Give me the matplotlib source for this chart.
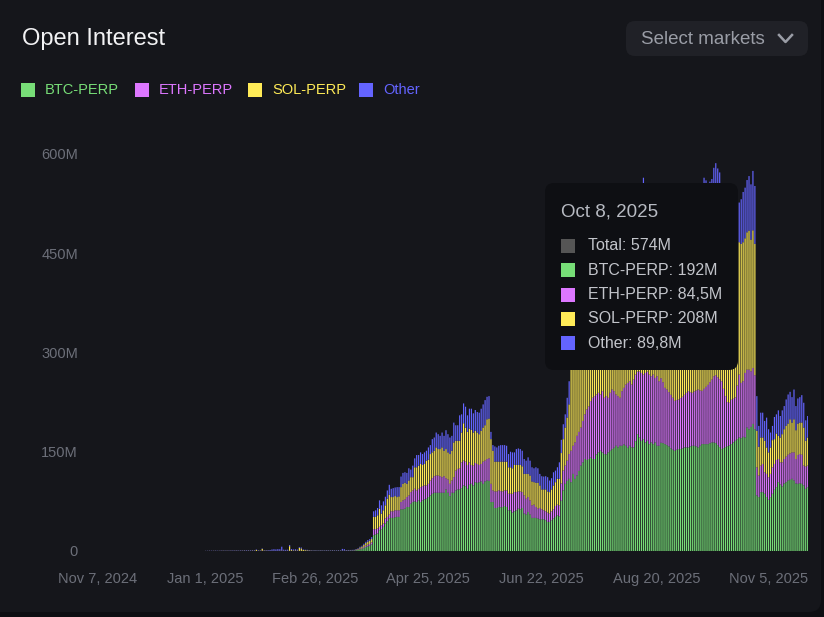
import numpy as np
import matplotlib
matplotlib.use("Agg")
import matplotlib.pyplot as plt
import matplotlib.dates as mdates
from matplotlib.patches import FancyBboxPatch, Rectangle
from matplotlib.lines import Line2D

plt.rcParams['font.family'] = ['Liberation Sans', 'DejaVu Sans']

# daily open interest in $M, Jan 1 2025 .. Nov 5 2025
days = np.arange(np.datetime64('2025-01-01'), np.datetime64('2025-11-06'))

btc_perp = [
    # Jan 1 - Mar 18
    0, 0, 0, 0, 0, 0, 0, 0, 0, 0, 0, 0, 0, 0, 0, 0, 0, 0, 0, 0, 0, 0, 0, 0, 0, 0,
    0, 0, 0, 0, 0, 0, 0, 0, 0, 0, 0, 0, 0, 0, 0, 0, 0, 0, 0, 0, 0, 0, 0, 0, 0, 0, 0, 0, 0,
    0.2, 0.2, 0.2, 0.2, 0.2, 0.2, 0.2, 0.2, 0.2, 0.2, 0.2, 0.2, 0.2, 0.2, 0.2,
    0.2, 0.2, 0.3, 0.3, 0.3, 0.4, 0.4,
    # Mar 19 - May 10
    1.2, 1.5, 2.5, 3, 4.5, 6, 7, 8, 10, 24, 25, 26.5, 31.5, 33, 36.5, 41.5, 45, 49, 50,
    50, 51, 51.5, 51.5, 63, 63, 64, 66.5, 66.5, 71.5, 74, 75, 74, 76.5, 74, 76.5, 78, 79,
    81.5, 84, 86.5, 88, 88, 88, 88, 88, 88, 93, 88, 83, 88, 88, 91.5, 93,
    # May 11 - Jun 30
    93, 95, 99, 98, 94, 100, 101.5, 99, 104, 103, 104, 105, 101.5, 105, 106.5, 106,
    74, 74, 65, 65, 66.5, 66, 66.5, 68, 66.5, 61.5, 61.5, 58, 60, 61.5, 64, 63,
    65, 56.5, 55, 59, 55, 50, 50, 50, 49, 48, 48, 48, 46.5, 44, 44, 46.5, 49, 51.5, 54,
    # Jul 1 - Aug 21
    52.5, 76, 91.5, 101.5, 106, 109, 104, 116.5, 109, 114, 121, 129, 134, 139, 137.5,
    139, 141, 139, 139, 146, 149, 151.5, 149, 146.5, 146, 149, 151.5, 154, 156, 159,
    156.5, 159, 159, 161, 159, 156, 159, 156.5, 156.5, 166, 176.5, 171.5, 166.5, 169,
    164, 166.5, 161.5, 164, 161.5, 164, 159, 159,
    # Aug 22 - Oct 1
    163.5, 163, 161.5, 160, 158, 155, 153, 151.5, 153, 154, 154, 155, 156.5, 156.5,
    156.5, 158, 159, 159, 158, 156.5, 159, 161.5, 161.5, 161.5, 161.5, 163, 164, 164,
    163, 160, 157, 154, 155.5, 157, 158.5, 159.5, 161.5, 164, 166.5, 169, 171.5,
    # Oct 2 - Nov 5
    170.5, 172.5, 171.5, 186.5, 184, 187.5, 192, 184, 84, 81.5, 89, 89, 86.5, 81.5,
    77.5, 81.5, 86.5, 92.5, 96.5, 104, 100.5, 97.5, 102, 104, 106.5, 107.5, 109, 106.5,
    102, 101.5, 102.5, 101.5, 99, 94, 96.5,
]

eth_perp = [
    0, 0, 0, 0, 0, 0, 0, 0, 0, 0, 0, 0, 0, 0, 0, 0, 0, 0, 0, 0, 0, 0, 0, 0, 0, 0,
    0.1, 0, 0, 0.4, 0.1, 0, 0, 0, 0, 0, 0, 0, 0, 0.2, 0, 0, 0, 0.3, 0.1, 0, 0, 0,
    0.2, 0.1, 0, 0, 0, 0, 0,
    0.1, 0.1, 0.1, 0.1, 0.1, 0.1, 0.1, 0.1, 0.1, 0.1, 0.1, 0.1, 0.1, 0.1, 0.1,
    0.1, 0.1, 0.2, 0.2, 0.2, 0.2, 0.2,
    0.5, 0.7, 1.0, 1.3, 1.6, 2, 2.5, 2.6, 3, 9, 8, 7.5, 5, 6, 5, 7.5, 6.5, 6, 10,
    10, 10.5, 10, 10, 11, 13.5, 14, 15, 17.5, 17.5, 17.5, 19, 17.5, 17.5, 22.5, 21.5, 21,
    20, 20, 22.5, 23.5, 25, 26, 26, 25, 23.5, 25, 17, 20, 18.5, 18.5, 23.5, 30, 31,
    32, 39, 37.5, 37, 36, 34, 28.5, 30, 29, 28.5, 26, 26.5, 33.5, 31.5, 32.5, 34,
    27.5, 17.5, 25, 25, 25, 24.5, 23.5, 23.5, 25, 25, 25, 28.5, 29, 27.5, 26, 27,
    24, 27.5, 24, 22.5, 21.5, 19, 20, 16.5, 15, 17, 15, 13.5, 13.5, 14, 12.5, 13.5, 14, 16.5, 16,
    16.5, 26, 30, 27.5, 30.5, 37.5, 47.5, 42.5, 55, 60, 59, 57.5, 62.5, 67.5, 76.5,
    79.5, 85.5, 92.5, 95, 90.5, 90, 85, 92.5, 85, 88, 82.5, 87.5, 90, 85.5, 77.5,
    77.5, 72.5, 82.5, 85.5, 92.5, 98, 97.5, 95, 102.5, 100.5, 94.5, 100, 102.5, 97.5,
    105, 104.5, 105, 100, 105, 97.5, 105, 97.5,
    97.5, 92, 85, 84, 82, 81, 78.5, 75.5, 75, 75, 77, 78, 79.5, 82.5, 85, 82, 80, 82,
    84.5, 87.5, 83.5, 80.5, 83.5, 86.5, 89.5, 92, 95, 100, 102.5, 102.5, 102.5, 102.5,
    89.5, 77, 66.5, 64.5, 67, 66, 65.5, 81, 95,
    83.5, 84, 97.5, 87.5, 90, 84, 84.5, 81.5, 42.5, 32.5, 40, 42.5, 32.5, 35, 34, 35,
    40, 39, 41, 35, 33.5, 36.5, 37, 38.5, 39, 40, 40, 42.5, 37, 43.5, 44, 44, 30, 33.5, 32.5,
]

sol_perp = [
    0.1, 0.1, 0.2, 0.1, 0.2, 0.2, 0.1, 0.2, 0.2, 0.3, 0.2, 0.3, 0.2, 0.3, 0.2, 0.3,
    0.3, 0.2, 0.3, 0.3, 0.4, 0.3, 0.4, 0.3, 0.5, 0.4,
    1.6, 0.4, 0.5, 2.8, 0.6, 0.5, 0.4, 0.3, 0.3, 0.3, 0.2, 0.3, 0.4, 0.5, 0.4, 0.4, 0.5,
    7.0, 1.2, 0.8, 0.9, 0.7, 4.5, 3.8, 1.5, 1.2, 1.0, 0.8, 0.5,
    0.2, 0.3, 0.2, 0.2, 0.3, 0.2, 0.2, 0.3, 0.2, 0.2, 0.3, 0.2, 0.2, 0.3, 0.2,
    0.3, 0.3, 0.3, 0.3, 0.4, 0.3, 0.4,
    0.6, 0.9, 1.7, 2.2, 3, 4, 4.5, 4.8, 5, 18.5, 18.5, 20, 27.5, 17.5, 20, 20, 27.5, 30,
    21.5, 21.5, 21.5, 20, 21, 22.5, 25, 25, 20, 22.5, 22.5, 20, 32.5, 35, 35, 35, 32,
    32.5, 37.5, 36.5, 40, 39, 38.5, 42.5, 40, 41, 45, 38.5, 44, 41, 45, 45, 52.5, 45, 42.5,
    41.5, 45, 56.5, 51.5, 50, 51, 53, 50, 48.5, 47.5, 46.5, 50, 51.5, 53.5, 60, 60,
    67.5, 60, 45, 45, 43.5, 44.5, 45, 43.5, 43.5, 40, 40, 38.5, 41, 41, 40, 40,
    39, 32.5, 37.5, 35, 37.5, 36, 34, 36.5, 39, 34, 30, 31.5, 33, 32, 32.5, 33, 36, 36, 39,
    40, 46, 47.5, 57.5, 65, 75, 123.5, 141, 156, 161, 165, 163.5, 163.5, 158.5, 156,
    156.5, 150, 148, 146, 150, 152, 155, 150, 158, 155, 160, 156, 150, 158, 160,
    162, 165, 162, 160, 158, 155, 160, 162, 158, 160, 165, 168, 170, 210,
    165, 168, 170, 172, 170, 175, 172, 175,
    172, 175, 178, 180, 182, 185, 188, 190, 192, 190, 192, 190, 192, 195, 192, 195,
    198, 196, 198, 200, 202, 205, 225, 220, 205, 215, 215, 222, 225, 222,
    220, 210, 195, 200, 205, 210, 212, 215, 218, 200, 200,
    210, 210, 203.5, 207.5, 210, 199, 208, 198.5, 55, 43.5, 42.5, 40, 47.5, 40, 37.5,
    40, 41, 37.5, 40, 35, 37.5, 42.5, 45, 46.5, 47, 51.5, 45, 50, 43.5, 47.5,
    47.5, 48.5, 57.5, 39, 42.5,
]

other = [
    0.2, 0.3, 0.3, 0.4, 0.3, 0.4, 0.4, 0.3, 0.5, 0.4, 0.5, 0.4, 0.5, 0.5, 0.6, 0.5,
    0.6, 0.5, 0.6, 0.5, 0.6, 0.7, 0.6, 0.7, 0.6, 0.7,
    0.6, 0.7, 0.6, 0.6, 0.5, 0.7, 0.9, 1.2, 2.0, 2.4, 2.2, 2.5, 2.3, 5.8, 1.6, 1.4, 1.5,
    1.8, 1.6, 1.5, 1.7, 1.4, 1.2, 1.4, 0.8, 0.7, 0.8, 0.7, 0.6,
    0.5, 0.6, 0.5, 0.5, 0.6, 0.5, 0.5, 0.6, 0.5, 0.5, 0.6, 0.5, 0.5, 0.6, 0.5,
    2.6, 2.2, 0.7, 0.8, 0.7, 0.8, 0.9,
    0.7, 0.9, 1.3, 1.5, 1.9, 2, 2.5, 2.6, 3, 8.5, 10, 11, 12.5, 12.5, 13.5, 13, 12.5, 15,
    12.5, 13.5, 13, 15, 14, 16, 16.5, 16, 16.5, 18.5, 11.5, 17.5, 13.5, 18.5, 16, 17.5,
    16.5, 17.5, 15, 18.5, 13.5, 20, 20, 22.5, 22.5, 20, 22.5, 22.5, 28.5, 27.5, 25,
    22.5, 30, 23.5, 23.5,
    38.5, 27.5, 30, 31.5, 25, 30, 32, 29, 31.5, 31, 32.5, 33.5, 35, 38, 34, 34,
    11, 8.5, 23, 21.5, 24, 25, 25, 25, 24, 20, 23.5, 24, 19, 24, 25, 24,
    23.5, 22.5, 20, 25, 22.5, 21.5, 21, 23.5, 22, 17.5, 20, 19.5, 20, 21.5, 17.5, 17, 20, 17.5, 17.5,
    25, 20, 22.5, 20, 30, 35, 30, 35, 40, 45, 50, 50, 50, 55, 55, 55, 58, 60, 62, 60,
    62, 60, 62, 60, 63, 62, 65, 63, 62, 65, 64, 66, 65, 68, 66, 65, 68, 66, 70, 68,
    70, 72, 70, 87.5, 72, 70, 72, 70, 72, 74, 72, 75,
    72, 74, 75, 76, 75, 78, 76, 78, 80, 78, 80, 82, 80, 82, 80, 82, 85, 84, 85, 86,
    86, 88, 94, 92, 84, 88, 88, 93, 95.5, 93.5, 92.5, 87.5, 80, 82, 85, 86, 88, 90, 90, 90, 60,
    67.5, 76, 76.5, 79, 82.5, 83.5, 89.8, 87.5, 52.5, 31.5, 37.5, 37.5, 30, 45, 35,
    22.5, 21.5, 33.5, 29, 38.5, 32.5, 36, 35, 40, 44, 41.5, 38.5, 45, 36.5, 38,
    38.5, 41.5, 37.5, 31, 32.5,
]

series_names = ['BTC-PERP', 'ETH-PERP', 'SOL-PERP', 'Other']
series_colors = ['#77dd77', '#dd77ff', '#ffeb57', '#6464ff']

tick_dates = ['2024-11-07', '2025-01-01', '2025-02-26', '2025-04-25',
              '2025-06-22', '2025-08-20', '2025-11-05']
tick_labels = ['Nov 7, 2024', 'Jan 1, 2025', 'Feb 26, 2025', 'Apr 25, 2025',
               'Jun 22, 2025', 'Aug 20, 2025', 'Nov 5, 2025']
y_ticks = [0, 150, 300, 450, 600]
y_labels = ['0', '150M', '300M', '450M', '600M']

hover_day = np.datetime64('2025-10-08')

W, H = 824, 617
fig = plt.figure(figsize=(W / 100, H / 100), dpi=100, facecolor='#0d0e12')
inch = fig.dpi_scale_trans


def box(x0, y0, x1, y1, color, r, z):
    # pixel coords, origin top-left
    fig.add_artist(FancyBboxPatch((x0 / 100, (H - y1) / 100), (x1 - x0) / 100, (y1 - y0) / 100,
                                  boxstyle=f"round,pad=0,rounding_size={r / 100}",
                                  transform=inch, facecolor=color, edgecolor='none', zorder=z))


def square(x, y, color, z):
    fig.add_artist(Rectangle((x / 100, (H - y - 14) / 100), 0.14, 0.14, transform=inch,
                             facecolor=color, edgecolor='none', zorder=z))


def label(x, y, s, color, size, z=3, **kw):
    fig.text(x / 100, (H - y) / 100, s, transform=inch, color=color, fontsize=size,
             va='center', zorder=z, **kw)


# card
box(-20, -20, 821, 612, '#15161b', 12, -1)

ax = fig.add_axes([85 / W, 1 - 551 / H, (808 - 85) / W, (551 - 140) / H])
ax.set_facecolor('none')

bottom = np.zeros(len(days))
for vals, color in zip([btc_perp, eth_perp, sol_perp, other], series_colors):
    vals = np.array(vals)
    ax.bar(days, vals, width=0.6, bottom=bottom, color=color, edgecolor='none',
           linewidth=0, snap=False, antialiased=True)
    bottom = bottom + vals

base = mdates.date2num(np.datetime64('2024-11-07'))
ax.set_xlim(base - 6.65, base + 363.17)
ax.set_ylim(0, 621)
ax.set_xticks([mdates.date2num(np.datetime64(d)) for d in tick_dates], tick_labels)
ax.set_yticks(y_ticks, y_labels)
ax.tick_params(axis='both', length=0, labelsize=10.5, colors='#6c6f79')
ax.tick_params(axis='x', pad=15)
ax.tick_params(axis='y', pad=5)
ax.get_xticklabels()[-1].set_horizontalalignment('right')
for s in ax.spines.values():
    s.set_visible(False)

# header
label(22, 39, 'Open Interest', '#f2f2f4', 17)
box(626, 21, 808, 56, '#202127', 9, 1)
label(641, 39, 'Select markets', '#9a9da6', 13.5)
fig.add_artist(Line2D([779 / 100, 785.5 / 100, 792 / 100],
                      [(H - 35) / 100, (H - 42) / 100, (H - 35) / 100],
                      transform=inch, color='#9a9da6', lw=1.8, zorder=3))

# legend
legend_x = [21, 135, 248, 359]
for x, name, color in zip(legend_x, series_names, series_colors):
    square(x, 83, color, 3)
    label(x + 24, 90, name, color, 10.5)

# tooltip for the hovered day
i = int((hover_day - days[0]).astype(int))
vals = [btc_perp[i], eth_perp[i], sol_perp[i], other[i]]


def fmt(v):
    return f"{v:.3g}".replace('.', ',') + 'M'


box(545, 183, 738, 370, '#0e0f13', 9, 10)
label(561, 212, 'Oct 8, 2025', '#b7bac2', 13.5, z=11)
rows = [('Total', sum(vals), '#555555')] + list(zip(series_names, vals, series_colors))
for k, (name, v, color) in enumerate(rows):
    y = 246 + k * 24.3
    square(561, y - 7, color, 11)
    label(588, y, f"{name}: {fmt(v)}", '#c2c4ca', 11.5, z=11)

fig.savefig('out.png', dpi=100, facecolor=fig.get_facecolor())
